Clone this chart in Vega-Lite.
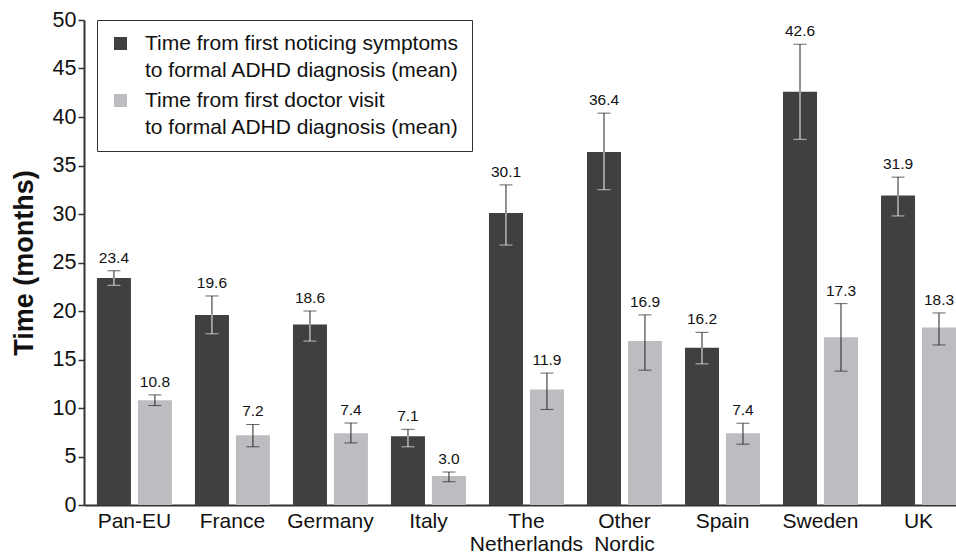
{
  "$schema": "https://vega.github.io/schema/vega-lite/v6.json",
  "autosize": "none",
  "padding": {"left": 84, "top": 20, "right": 0, "bottom": 49},
  "width": 872,
  "height": 485,
  "background": "white",
  "config": {
    "font": "Liberation Sans",
    "view": {"stroke": null},
    "style": {"guide-label": {"lineHeight": 27}}
  },
  "data": {
    "values": [
      {"country": "Pan-EU", "series": "symptoms", "value": 23.4, "lower": 22.65, "upper": 24.15},
      {"country": "Pan-EU", "series": "doctor", "value": 10.8, "lower": 10.25, "upper": 11.35},
      {"country": "France", "series": "symptoms", "value": 19.6, "lower": 17.65, "upper": 21.55},
      {"country": "France", "series": "doctor", "value": 7.2, "lower": 6.0, "upper": 8.3},
      {"country": "Germany", "series": "symptoms", "value": 18.6, "lower": 16.9, "upper": 20.0},
      {"country": "Germany", "series": "doctor", "value": 7.4, "lower": 6.4, "upper": 8.45},
      {"country": "Italy", "series": "symptoms", "value": 7.1, "lower": 6.0, "upper": 7.8},
      {"country": "Italy", "series": "doctor", "value": 3.0, "lower": 2.4, "upper": 3.4},
      {"country": "The Netherlands", "series": "symptoms", "value": 30.1, "lower": 26.8, "upper": 33.0},
      {"country": "The Netherlands", "series": "doctor", "value": 11.9, "lower": 9.85, "upper": 13.6},
      {"country": "Other Nordic", "series": "symptoms", "value": 36.4, "lower": 32.5, "upper": 40.4},
      {"country": "Other Nordic", "series": "doctor", "value": 16.9, "lower": 13.9, "upper": 19.6},
      {"country": "Spain", "series": "symptoms", "value": 16.2, "lower": 14.55, "upper": 17.8},
      {"country": "Spain", "series": "doctor", "value": 7.4, "lower": 6.27, "upper": 8.43},
      {"country": "Sweden", "series": "symptoms", "value": 42.6, "lower": 37.7, "upper": 47.5},
      {"country": "Sweden", "series": "doctor", "value": 17.3, "lower": 13.8, "upper": 20.76},
      {"country": "UK", "series": "symptoms", "value": 31.9, "lower": 29.8, "upper": 33.8},
      {"country": "UK", "series": "doctor", "value": 18.3, "lower": 16.5, "upper": 19.8}
    ]
  },
  "encoding": {
    "x": {
      "field": "country",
      "type": "nominal",
      "sort": null,
      "scale": {"paddingInner": 0.235, "paddingOuter": 0.066, "align": 1},
      "axis": {
        "title": null,
        "labelAngle": 0,
        "ticks": false,
        "domainWidth": 2,
        "domainColor": "#333",
        "labelFontSize": 21,
        "labelColor": "#111",
        "labelPadding": 5,
        "labelLineHeight": 23,
        "labelBaseline": "top",
        "labelExpr": "datum.value == 'The Netherlands' ? ['The', 'Netherlands'] : datum.value == 'Other Nordic' ? ['Other', 'Nordic'] : datum.value"
      }
    },
    "xOffset": {
      "field": "series",
      "type": "nominal",
      "sort": ["symptoms", "doctor"],
      "scale": {"paddingInner": 0.17, "paddingOuter": 0}
    }
  },
  "layer": [
    {
      "mark": {"type": "bar"},
      "encoding": {
        "y": {
          "field": "value",
          "type": "quantitative",
          "scale": {"domain": [0, 50], "nice": false},
          "axis": {
            "title": "Time (months)",
            "titleFontSize": 27,
            "titleFontWeight": "bold",
            "titleColor": "#111",
            "titlePadding": 14,
            "values": [0, 5, 10, 15, 20, 25, 30, 35, 40, 45, 50],
            "grid": false,
            "domainWidth": 2,
            "domainColor": "#333",
            "tickColor": "#333",
            "tickSize": 6,
            "tickWidth": 1.5,
            "labelFontSize": 21.5,
            "labelColor": "#111",
            "labelPadding": 2,
            "labelLineHeight": 21
          }
        },
        "color": {
          "field": "series",
          "type": "nominal",
          "sort": ["symptoms", "doctor"],
          "scale": {"domain": ["symptoms", "doctor"], "range": ["#404040", "#bcbdc0"]},
          "legend": {
            "title": null,
            "orient": "none",
            "legendX": 13,
            "legendY": 0,
            "symbolType": "square",
            "symbolSize": 169,
            "symbolStrokeWidth": 0,
            "labelFontSize": 21,
            "labelColor": "#111",
            "labelLimit": 500,
            "labelOffset": 14,
            "labelBaseline": "middle",
            "rowPadding": 8,
            "padding": 13,
            "strokeColor": "#333",
            "fillColor": "white",
            "labelExpr": "datum.value == 'symptoms' ? ['Time from first noticing symptoms', 'to formal ADHD diagnosis (mean)'] : ['Time from first doctor visit', 'to formal ADHD diagnosis (mean)']"
          }
        }
      }
    },
    {
      "mark": {"type": "rule", "color": "#222", "strokeWidth": 1},
      "encoding": {
        "y": {"field": "value", "type": "quantitative"},
        "y2": {"field": "upper"}
      }
    },
    {
      "mark": {"type": "rule", "strokeWidth": 1},
      "encoding": {
        "y": {"field": "lower", "type": "quantitative"},
        "y2": {"field": "value"},
        "color": {"condition": {"test": "datum.series == 'symptoms'", "value": "#f4f4f4"}, "value": "#222"}
      }
    },
    {
      "mark": {"type": "tick", "color": "#222", "size": 13, "thickness": 1},
      "encoding": {
        "y": {"field": "upper", "type": "quantitative"}
      }
    },
    {
      "mark": {"type": "tick", "size": 13, "thickness": 1},
      "encoding": {
        "y": {"field": "lower", "type": "quantitative"},
        "color": {"condition": {"test": "datum.series == 'symptoms'", "value": "#f4f4f4"}, "value": "#222"}
      }
    },
    {
      "mark": {"type": "text", "fontSize": 15.5, "color": "#111", "baseline": "bottom", "dy": -5},
      "encoding": {
        "y": {"field": "upper", "type": "quantitative"},
        "text": {"field": "value", "type": "quantitative", "format": ".1f"}
      }
    }
  ]
}
